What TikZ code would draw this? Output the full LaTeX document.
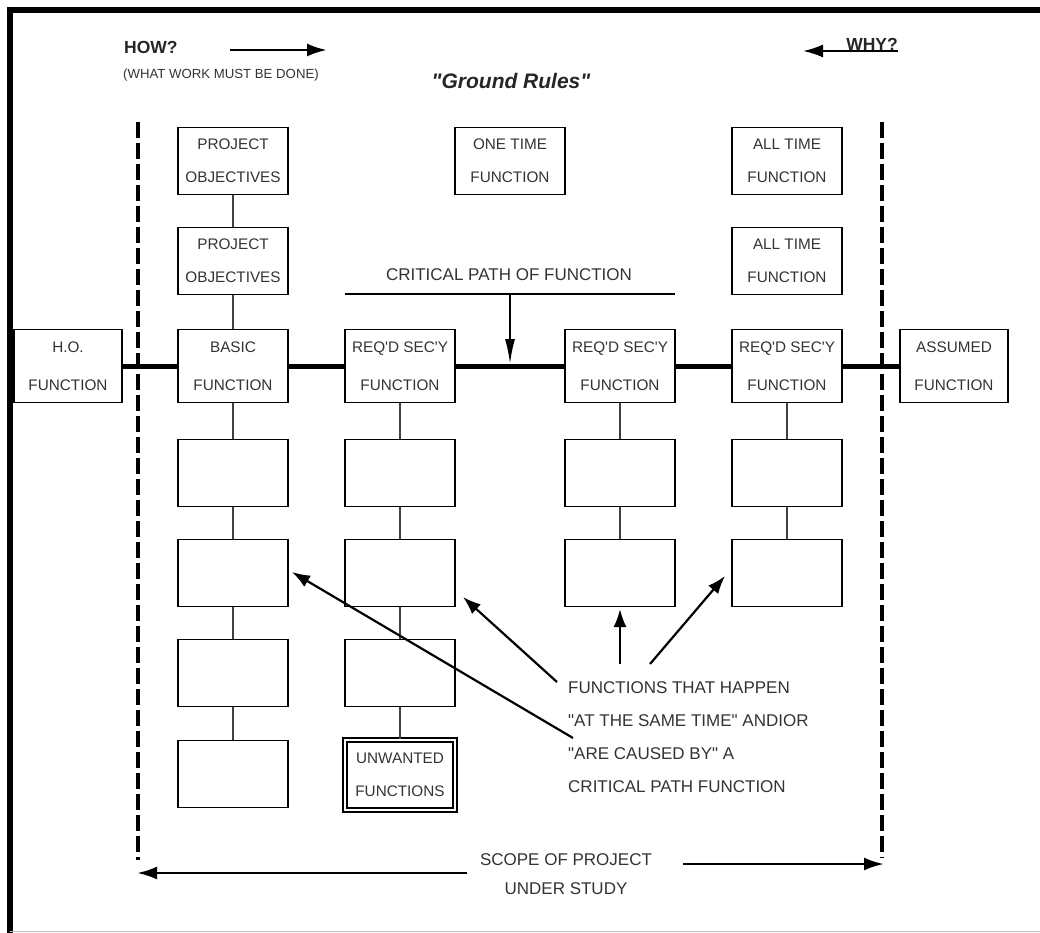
\documentclass[tikz,border=0pt]{standalone}
\usepackage{fontspec}
\setmainfont{Liberation Sans}
\usetikzlibrary{arrows.meta}
\newcommand\qd{\textquotedbl}
\newcommand\qs{\textquotesingle}
\begin{document}
\begin{tikzpicture}[x=1pt,y=-1pt,
  fbox/.style={draw, line width=1.7pt, fill=white, minimum width=110pt,
    minimum height=67pt, inner sep=0pt, align=center, text=black!80,
    font=\fontsize{15.3}{33}\selectfont},
  tall/.style={minimum height=73pt, font=\fontsize{15.3}{38}\selectfont},
  unwanted/.style={line width=1.9pt, double=white, double distance=1.3pt},
  link/.style={line width=1.3pt, draw=black!75},
  cpath/.style={line width=5pt},
  bounddash/.style={line width=4pt, dash pattern=on 16pt off 5pt},
  bigarrow/.style={line width=2.8pt, -{Latex[length=20pt,width=13pt]}},
  annarrow/.style={line width=2.2pt, -{Latex[length=18pt,width=13pt]}},
  note/.style={font=\fontsize{17}{33}\selectfont, text=black!80, inner sep=0pt}
]
\useasboundingbox (0,0) rectangle (1040,933);

% outer frame (top and left edges)
\draw[line width=6pt] (7,10) -- (1040,10);
\draw[line width=6pt] (10,7) -- (10,933);
\draw[black!25, line width=1.5pt] (10,931.5) -- (1040,931.5);

% header
\node[font=\bfseries\fontsize{17.5}{17}\selectfont, anchor=west, inner sep=0pt, text=black!85] (how) at (124,47) {HOW?};
\node[font=\fontsize{13.2}{12}\selectfont, anchor=west, inner sep=0pt, text=black!80] (what) at (123,75) {(WHAT WORK MUST BE DONE)};
\coordinate (howa) at (230,50);
\coordinate (howb) at (327,50);
\draw[bigarrow] (howa) -- (howb);
\node[font=\bfseries\itshape\fontsize{21}{21}\selectfont, inner sep=0pt, text=black!85] (rules) at (511,81) {\qd Ground Rules\qd};
\node[font=\bfseries\fontsize{17.5}{17}\selectfont, anchor=east, inner sep=0pt, text=black!85] (why) at (898,44) {WHY?};
\coordinate (whyend) at (898,51);
\coordinate (whytip) at (803,51);
\draw[line width=2.2pt, -{Latex[length=20pt,width=13pt]}] (whyend) -- (whytip);

% function boxes
\node[fbox] (po1) at (233,161) {PROJECT\\OBJECTIVES};
\node[fbox] (po2) at (233,261) {PROJECT\\OBJECTIVES};
\node[fbox] (one) at (510,161) {ONE TIME\\FUNCTION};
\node[fbox] (at1) at (787,161) {ALL TIME\\FUNCTION};
\node[fbox] (at2) at (787,261) {ALL TIME\\FUNCTION};

\node[fbox,tall,minimum width=108pt] (ho) at (68,366) {H.O.\\FUNCTION};
\node[fbox,tall] (basic) at (233,366) {BASIC\\FUNCTION};
\node[fbox,tall] (rs1) at (400,366) {REQ\qs D SEC\qs Y\\FUNCTION};
\node[fbox,tall] (rs2) at (620,366) {REQ\qs D SEC\qs Y\\FUNCTION};
\node[fbox,tall] (rs3) at (787,366) {REQ\qs D SEC\qs Y\\FUNCTION};
\node[fbox,tall,minimum width=108pt] (asm) at (954,366) {ASSUMED\\FUNCTION};

\node[fbox] (b14) at (233,473) {};
\node[fbox] (b15) at (233,573) {};
\node[fbox] (b16) at (233,673) {};
\node[fbox] (b17) at (233,774) {};
\node[fbox] (b24) at (400,473) {};
\node[fbox] (b25) at (400,573) {};
\node[fbox] (b26) at (400,673) {};
\node[fbox,unwanted,minimum width=110pt,minimum height=70pt] (unw) at (400,775) {UNWANTED\\FUNCTIONS};
\node[fbox] (b34) at (620,473) {};
\node[fbox] (b35) at (620,573) {};
\node[fbox] (b44) at (787,473) {};
\node[fbox] (b45) at (787,573) {};

% vertical links
\foreach \a/\b in {po1/po2, po2/basic, basic/b14, b14/b15, b15/b16, b16/b17,
                   rs1/b24, b24/b25, b25/b26, b26/unw,
                   rs2/b34, b34/b35, rs3/b44, b44/b45}
  \draw[link] (\a) -- (\b);

% critical path line
\foreach \a/\b in {ho/basic, basic/rs1, rs1/rs2, rs2/rs3, rs3/asm}
  \draw[cpath] (\a) -- (\b);

% scope boundaries
\coordinate (dl1) at (138,122);
\coordinate (dl2) at (138,860);
\coordinate (dr1) at (882,122);
\coordinate (dr2) at (882,858);
\draw[bounddash] (dl1) -- (dl2);
\draw[bounddash] (dr1) -- (dr2);

% critical path label
\node[note] (cpt) at (509,275) {CRITICAL PATH OF FUNCTION};
\coordinate (cpl) at (345,294);
\coordinate (cpr) at (675,294);
\draw[line width=2pt] (cpl) -- (cpr);
\coordinate (cptop) at (510,294);
\coordinate (cptip) at (510,364);
\draw[line width=2pt, -{Latex[length=25pt,width=10pt]}] (cptop) -- (cptip);

% annotation
\node[note, anchor=north west, align=left] (fn) at (568,681)
  {FUNCTIONS THAT HAPPEN\\\qd AT THE SAME TIME\qd{} ANDIOR\\\qd ARE CAUSED BY\qd{} A\\CRITICAL PATH FUNCTION};
\coordinate (t1) at (573,738); \coordinate (h1) at (292,572);
\coordinate (t2) at (557,682); \coordinate (h2) at (463,597);
\coordinate (t3) at (620,664); \coordinate (h3) at (620,609);
\coordinate (t4) at (650,664); \coordinate (h4) at (725,576);
\draw[annarrow] (t1) -- (h1);
\draw[annarrow] (t2) -- (h2);
\draw[annarrow] (t3) -- (h3);
\draw[annarrow] (t4) -- (h4);

% scope of project
\node[note, align=center, font=\fontsize{17}{29}\selectfont] (scope) at (566,874) {SCOPE OF PROJECT\\UNDER STUDY};
\coordinate (sl1) at (467,873);
\coordinate (sl2) at (137,873);
\draw[bigarrow] (sl1) -- (sl2);
\coordinate (sr1) at (683,864);
\coordinate (sr2) at (884,864);
\draw[bigarrow] (sr1) -- (sr2);
\end{tikzpicture}
\end{document}
